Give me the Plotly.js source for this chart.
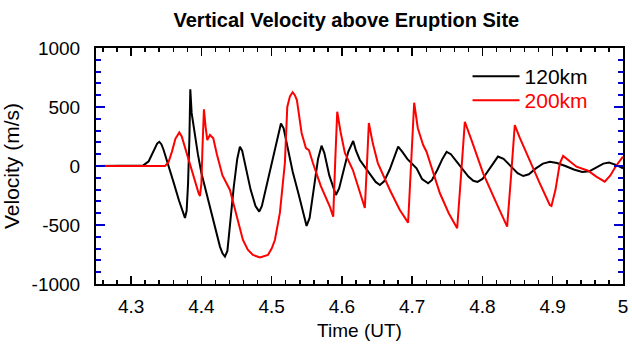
<!DOCTYPE html>
<html>
<head>
<meta charset="utf-8">
<script src="https://cdn.plot.ly/plotly-3.0.1.min.js"></script>
<style>
  html, body { margin: 0; padding: 0; background: #ffffff; }
  #chart { width: 632px; height: 350px; }
</style>
</head>
<body>
<div id="chart"></div>
<script>
// ---- Data ----
const time120 = [4.25, 4.31, 4.3173, 4.325, 4.333, 4.337, 4.340, 4.343, 4.346, 4.352, 4.360, 4.368, 4.374, 4.3766, 4.379, 4.381, 4.383, 4.3842, 4.3861, 4.390, 4.395, 4.400, 4.406, 4.412, 4.419, 4.4264, 4.4300, 4.4335, 4.4370, 4.441, 4.446, 4.451, 4.4548, 4.458, 4.463, 4.470, 4.477, 4.4823, 4.486, 4.492, 4.500, 4.507, 4.5132, 4.517, 4.523, 4.530, 4.538, 4.545, 4.5497, 4.554, 4.560, 4.566, 4.571, 4.575, 4.582, 4.588, 4.5914, 4.596, 4.603, 4.609, 4.616, 4.620, 4.6255, 4.6326, 4.640, 4.648, 4.654, 4.660, 4.668, 4.675, 4.680, 4.686, 4.693, 4.7062, 4.714, 4.7227, 4.728, 4.736, 4.743, 4.749, 4.755, 4.763, 4.771, 4.780, 4.787, 4.793, 4.800, 4.808, 4.815, 4.822, 4.830, 4.840, 4.850, 4.858, 4.866, 4.876, 4.886, 4.896, 4.906, 4.918, 4.930, 4.942, 4.952, 4.963, 4.972, 4.980, 4.990, 5.0];
const vel120  = [0, 0, 5, 40, 140, 190, 205, 185, 140, 30, -130, -290, -400, -440, -380, -150, 250, 650, 450, 280, 100, -60, -200, -330, -500, -683, -740, -768, -720, -470, -180, 60, 164, 130, -20, -200, -340, -387, -340, -180, 30, 210, 361, 320, 150, -50, -230, -400, -508, -440, -200, 60, 172, 110, -80, -200, -246, -190, -30, 120, 212, 130, 51, -6, -70, -135, -161, -130, -30, 90, 164, 120, 60, -20, -110, -147, -120, -30, 60, 120, 100, 40, -20, -90, -125, -135, -110, -40, 30, 80, 60, 0, -60, -85, -70, -20, 20, 35, 25, 0, -30, -50, -45, -10, 20, 30, 10, -20];

const time200 = [4.25, 4.344, 4.3482, 4.353, 4.358, 4.363, 4.3685, 4.372, 4.378, 4.385, 4.391, 4.396, 4.398, 4.400, 4.4015, 4.4036, 4.406, 4.4084, 4.4122, 4.4169, 4.422, 4.430, 4.4406, 4.450, 4.4591, 4.4660, 4.4733, 4.4833, 4.4947, 4.5000, 4.5046, 4.5117, 4.5188, 4.5222, 4.526, 4.5298, 4.5330, 4.5359, 4.5426, 4.5487, 4.553, 4.5587, 4.570, 4.5829, 4.5876, 4.5905, 4.5933, 4.598, 4.6042, 4.6156, 4.625, 4.6326, 4.6355, 4.6383, 4.6440, 4.6511, 4.6682, 4.6824, 4.6942, 4.6985, 4.7028, 4.708, 4.7156, 4.7204, 4.7393, 4.752, 4.764, 4.7695, 4.7749, 4.7844, 4.801, 4.820, 4.8351, 4.8405, 4.846, 4.853, 4.8626, 4.8816, 4.8958, 4.8982, 4.904, 4.9100, 4.9148, 4.922, 4.9338, 4.9503, 4.962, 4.974, 4.982, 4.990, 5.0];
const vel200  = [0, 0, 0, 30, 120, 230, 285, 250, 130, -20, -140, -230, -254, -150, 150, 480, 330, 220, 263, 235, 100, -80, -203, -420, -627, -710, -754, -775, -754, -700, -627, -398, 25, 500, 590, 625, 600, 559, 280, 152, 135, 25, -170, -347, -429, 50, 460, 290, 110, -34, -220, -356, 0, 364, 190, 25, -203, -373, -480, 20, 536, 320, 178, 121, -229, -400, -528, -80, 375, 220, -62, -316, -514, -100, 347, 240, 108, -147, -330, -339, -200, 20, 85, 50, -6, -40, -90, -133, -80, 0, 79];

const xTickVals = [4.3, 4.4, 4.5, 4.6, 4.7, 4.8, 4.9, 5.0];
const xTickText = ['4.3', '4.4', '4.5', '4.6', '4.7', '4.8', '4.9', '5'];
const yTickVals = [-1000, -500, 0, 500, 1000];
const yTickText = ['-1000', '-500', '0', '500', '1000'];

const FONT = 'Liberation Sans, Arial, Helvetica, sans-serif';

const traces = [
  {
    x: time120, y: vel120, type: 'scatter', mode: 'lines',
    name: '120km', legend: 'legend',
    line: { color: '#000000', width: 2 }
  },
  {
    x: time200, y: vel200, type: 'scatter', mode: 'lines',
    name: '<span style="color:#ff0000">200km</span>', legend: 'legend2',
    line: { color: '#ff0000', width: 2 }
  }
];

const legendStyle = (y) => ({
  x: 0.705, y: y, xanchor: 'left', yanchor: 'top',
  bgcolor: 'rgba(0,0,0,0)', borderwidth: 0,
  itemwidth: 47,
  font: { family: FONT, size: 21, color: '#000000' }
});

const layout = {
  width: 632, height: 350,
  margin: { l: 96, r: 9, t: 48, b: 66 },
  paper_bgcolor: '#ffffff', plot_bgcolor: '#ffffff',
  font: { family: FONT, size: 19, color: '#000000' },
  title: {
    text: '<b>Vertical Velocity above Eruption Site</b>',
    font: { family: FONT, size: 20, color: '#000000' },
    x: 0.548, xanchor: 'center', y: 0.943, yanchor: 'middle'
  },
  showlegend: true,
  legend: legendStyle(0.966),
  legend2: legendStyle(0.864),
  xaxis: {
    range: [4.25, 5.0],
    tickmode: 'array', tickvals: xTickVals, ticktext: xTickText,
    ticks: 'inside', ticklen: 8, tickwidth: 1.5, tickcolor: '#000000',
    minor: { tick0: 4.3, dtick: 0.02, ticks: 'inside', ticklen: 4, tickwidth: 1.5, tickcolor: '#000000' },
    showline: true, linecolor: '#000000', linewidth: 2, mirror: 'allticks',
    showgrid: false, zeroline: false,
    ticklabelstandoff: 4,
    tickfont: { family: FONT, size: 19, color: '#000000' },
    title: { text: 'Time (UT)', font: { family: FONT, size: 19, color: '#000000' }, standoff: 8 }
  },
  yaxis: {
    range: [-1000, 1000],
    tickmode: 'array', tickvals: yTickVals, ticktext: yTickText,
    ticks: 'inside', ticklen: 9, tickwidth: 2, tickcolor: '#0000cc',
    minor: { tick0: 0, dtick: 100, ticks: 'inside', ticklen: 5, tickwidth: 2, tickcolor: '#0000cc' },
    showline: true, linecolor: '#000000', linewidth: 2, mirror: 'allticks',
    showgrid: false, zeroline: false,
    ticklabelstandoff: 10,
    tickfont: { family: FONT, size: 19, color: '#000000' },
    title: { text: 'Velocity (m/s)', font: { family: FONT, size: 21, color: '#000000' }, standoff: 6 }
  }
};

Plotly.newPlot('chart', traces, layout, { staticPlot: true, displayModeBar: false });
</script>
</body>
</html>
